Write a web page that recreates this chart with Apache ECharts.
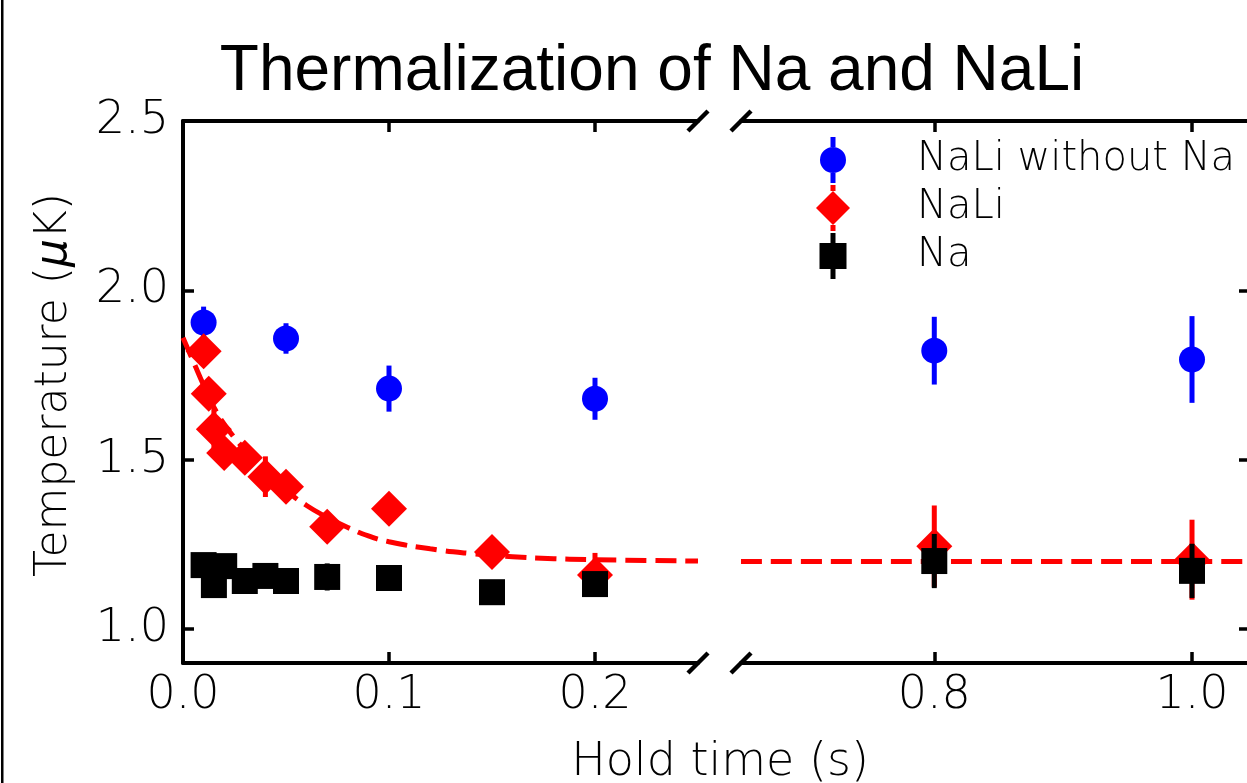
<!DOCTYPE html>
<html lang="en">
<head>
<meta charset="UTF-8">
<title>Thermalization of Na and NaLi</title>
<script src="https://cdn.jsdelivr.net/npm/echarts@6/dist/echarts.min.js"></script>
<style>
    html, body { margin: 0; padding: 0; background: #fff; }
    #chart { width: 1247px; height: 783px; }
</style>
</head>
<body>
<div id="chart"></div>
<script>
    // hold time (s), temperature (uK), error bar half length (uK)
    const naliNoNaT = [0.01, 0.05, 0.1, 0.2, 0.8, 1.0];
    const naliNoNaV = [1.905, 1.858, 1.71, 1.68, 1.822, 1.796];
    const naliNoNaErr = [0.047, 0.045, 0.068, 0.062, 0.10, 0.128];

    const naliT = [0.01, 0.0125, 0.015, 0.02, 0.03, 0.04, 0.05, 0.07, 0.1, 0.15, 0.2, 0.8, 1.0];
    const naliV = [1.82, 1.695, 1.59, 1.52, 1.506, 1.45, 1.42, 1.302, 1.355, 1.228, 1.16, 1.245, 1.205];
    const naliErr = [0.04, 0.04, 0.06, 0.04, 0.04, 0.06, 0.04, 0.04, 0.04, 0.04, 0.065, 0.12, 0.118];

    const naT = [0.01, 0.015, 0.02, 0.03, 0.04, 0.05, 0.07, 0.1, 0.15, 0.2, 0.8, 1.0];
    const naV = [1.189, 1.13, 1.186, 1.142, 1.157, 1.142, 1.154, 1.151, 1.109, 1.133, 1.201, 1.172];
    const naErr = [0.03, 0.03, 0.03, 0.03, 0.03, 0.03, 0.04, 0.03, 0.03, 0.03, 0.08, 0.08];

    // dashed fit curve
    const fitT = [0, 0.005, 0.01, 0.015, 0.02, 0.025, 0.03, 0.04, 0.05, 0.06, 0.07, 0.08, 0.09,
                  0.1, 0.12, 0.14, 0.16, 0.18, 0.2, 0.25, 0.65, 1.045];
    const fitV = [1.86, 1.79, 1.72, 1.655, 1.605, 1.565, 1.53, 1.465, 1.41, 1.365, 1.33, 1.30, 1.275,
                  1.258, 1.237, 1.223, 1.214, 1.208, 1.205, 1.201, 1.2, 1.2];

    const xTicksLeft = [0, 0.1, 0.2];
    const xTicksRight = [0.8, 1.0];
    const yTicks = [1.0, 1.5, 2.0, 2.5];

    // layout of the two panels of the broken axis
    const TOP = 121, HEIGHT = 542;
    const LEFT1 = 183, WIDTH1 = 515;
    const LEFT2 = 741, WIDTH2 = 509;
    const RANGE1 = [0, 0.25], RANGE2 = [0.65, 1.045];
    const YMIN = 0.9, YMAX = 2.5;

    const FONT = '"DejaVu Sans", sans-serif';
    const BLUE = '#0000ff', RED = '#ff0000', BLACK = '#000000';

    function points(ts, vs, range) {
        const out = [];
        ts.forEach((t, i) => { if (t >= range[0] && t <= range[1]) out.push([t, vs[i]]); });
        return out;
    }

    function errPoints(ts, vs, es, range) {
        const out = [];
        ts.forEach((t, i) => {
            if (t >= range[0] && t <= range[1]) out.push([t, vs[i] - es[i], vs[i] + es[i]]);
        });
        return out;
    }

    function errorSeries(color, data, idx, z) {
        return {
            type: 'custom',
            xAxisIndex: idx,
            yAxisIndex: idx,
            z: z,
            silent: true,
            encode: { x: 0, y: [1, 2] },
            data: data,
            renderItem: function (params, api) {
                const lo = api.coord([api.value(0), api.value(1)]);
                const hi = api.coord([api.value(0), api.value(2)]);
                return {
                    type: 'line',
                    shape: { x1: lo[0], y1: lo[1], x2: hi[0], y2: hi[1] },
                    style: { stroke: color, lineWidth: 5 }
                };
            }
        };
    }

    function scatterSeries(name, color, symbol, size, data, idx, z) {
        return {
            type: 'scatter',
            name: name,
            xAxisIndex: idx,
            yAxisIndex: idx,
            z: z,
            symbol: symbol,
            symbolSize: size,
            itemStyle: { color: color, opacity: 1 },
            data: data
        };
    }

    function fitSeries(range, idx) {
        return {
            type: 'line',
            xAxisIndex: idx,
            yAxisIndex: idx,
            z: 2,
            smooth: true,
            showSymbol: false,
            silent: true,
            lineStyle: { color: RED, width: 5, type: [21, 9] },
            data: points(fitT, fitV, range)
        };
    }

    const tickStyle = { color: BLACK, width: 3.5 };
    const lineStyle = { color: BLACK, width: 4 };

    function xAxis(grid, range, ticks, position, labels) {
        return {
            type: 'value',
            gridIndex: grid,
            min: range[0],
            max: range[1],
            position: position,
            axisLine: { show: true, onZero: false, lineStyle: lineStyle },
            axisTick: { show: true, inside: true, length: 11, lineStyle: tickStyle, customValues: ticks },
            axisLabel: {
                show: labels,
                customValues: ticks,
                formatter: v => v.toFixed(1),
                color: BLACK,
                fontFamily: FONT,
                fontWeight: 200,
                fontSize: 46,
                margin: 10
            },
            splitLine: { show: false }
        };
    }

    function yAxis(grid, position, labels) {
        return {
            type: 'value',
            gridIndex: grid,
            min: YMIN,
            max: YMAX,
            position: position,
            axisLine: { show: true, onZero: false, lineStyle: lineStyle },
            axisTick: { show: true, inside: true, length: 11, lineStyle: tickStyle, customValues: yTicks },
            axisLabel: {
                show: labels,
                customValues: yTicks,
                formatter: v => v.toFixed(1),
                color: BLACK,
                fontFamily: FONT,
                fontWeight: 200,
                fontSize: 46,
                margin: 14
            },
            splitLine: { show: false }
        };
    }

    // legend entries: marker with its error bar
    const legendItems = [
        { name: 'NaLi without Na', w: 26, top: 137,
          icon: 'path://M10.5,0H15.5V10H10.5Z M0,23A13,13 0 1,1 26,23A13,13 0 1,1 0,23Z M10.5,36H15.5V46H10.5Z' },
        { name: 'NaLi', w: 34, top: 185,
          icon: 'path://M14.5,0H19.5V6H14.5Z M17,6L34,23L17,40L0,23Z M14.5,40H19.5V46H14.5Z' },
        { name: 'Na', w: 27, top: 233,
          icon: 'path://M11,0H16V10H11Z M0,10H27V36H0Z M11,36H16V46H11Z' }
    ];
    const LEGEND_X = 833, LEGEND_TEXT_X = 917;

    function slash(cx, cy) {
        return {
            type: 'line',
            shape: { x1: cx - 10, y1: cy + 10, x2: cx + 10, y2: cy - 10 },
            style: { stroke: BLACK, lineWidth: 4.5 },
            z: 100
        };
    }

    const chart = echarts.init(document.getElementById('chart'));

    const option = {
        animation: false,
        backgroundColor: '#fff',
        grid: [
            { left: LEFT1, top: TOP, width: WIDTH1, height: HEIGHT, outerBoundsMode: 'none' },
            { left: LEFT2, top: TOP, width: WIDTH2, height: HEIGHT, outerBoundsMode: 'none' }
        ],
        xAxis: [
            xAxis(0, RANGE1, xTicksLeft, 'bottom', true),
            xAxis(1, RANGE2, xTicksRight, 'bottom', true),
            xAxis(0, RANGE1, xTicksLeft, 'top', false),
            xAxis(1, RANGE2, xTicksRight, 'top', false)
        ],
        yAxis: [
            yAxis(0, 'left', true),
            yAxis(1, 'right', false)
        ],
        legend: legendItems.map(it => ({
            data: [{ name: it.name, icon: it.icon }],
            left: LEGEND_X - it.w / 2,
            top: it.top,
            itemWidth: it.w,
            itemHeight: 46,
            padding: 0,
            selectedMode: false,
            textStyle: {
                color: BLACK,
                fontFamily: FONT,
                fontWeight: 200,
                fontSize: 40,
                padding: [8, 0, 0, LEGEND_TEXT_X - (LEGEND_X + it.w / 2 + 5)]
            }
        })),
        graphic: [
            { type: 'rect', shape: { x: 1, y: 0, width: 2.5, height: 783 }, style: { fill: BLACK } },
            {
                type: 'text', x: 652, y: 72,
                style: {
                    text: 'Thermalization of Na and NaLi',
                    fontFamily: '"Liberation Sans", Arial, sans-serif',
                    fontSize: 64, fill: BLACK, align: 'center', verticalAlign: 'middle'
                }
            },
            {
                type: 'text', x: 55, y: 385, rotation: Math.PI / 2,
                style: {
                    text: 'Temperature ({mu|μ}K)',
                    fontFamily: FONT, fontWeight: 200, fontSize: 44, fill: BLACK,
                    align: 'center', verticalAlign: 'middle',
                    rich: { mu: { fontFamily: FONT, fontWeight: 200, fontSize: 44, fontStyle: 'italic', fill: BLACK } }
                }
            },
            {
                type: 'text', x: 720, y: 763,
                style: {
                    text: 'Hold time (s)',
                    fontFamily: FONT, fontWeight: 200, fontSize: 46, fill: BLACK,
                    align: 'center', verticalAlign: 'middle'
                }
            },
            slash(LEFT1 + WIDTH1, TOP), slash(LEFT2, TOP),
            slash(LEFT1 + WIDTH1, TOP + HEIGHT), slash(LEFT2, TOP + HEIGHT)
        ],
        series: []
    };

    [[RANGE1, 0], [RANGE2, 1]].forEach(([range, idx]) => {
        option.series.push(
            fitSeries(range, idx),
            errorSeries(BLUE, errPoints(naliNoNaT, naliNoNaV, naliNoNaErr, range), idx, 3),
            scatterSeries('NaLi without Na', BLUE, 'circle', 26, points(naliNoNaT, naliNoNaV, range), idx, 4),
            errorSeries(RED, errPoints(naliT, naliV, naliErr, range), idx, 5),
            scatterSeries('NaLi', RED, 'diamond', 36, points(naliT, naliV, range), idx, 6),
            errorSeries(BLACK, errPoints(naT, naV, naErr, range), idx, 7),
            scatterSeries('Na', BLACK, 'rect', 26, points(naT, naV, range), idx, 8)
        );
    });

    chart.setOption(option);
</script>
</body>
</html>
